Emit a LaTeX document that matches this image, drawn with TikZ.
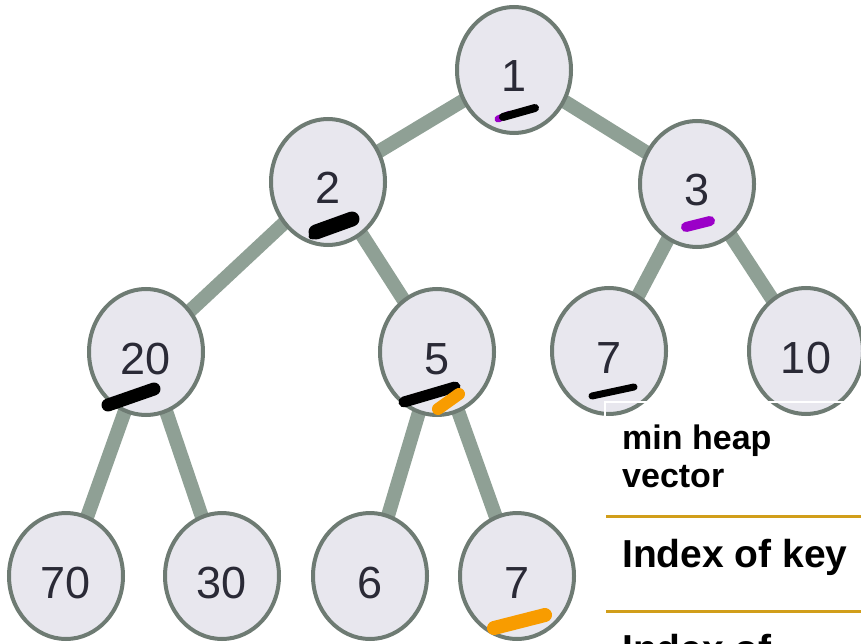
\documentclass[tikz,border=0pt]{standalone}
\usepackage{fontspec}
\setmainfont{Liberation Sans}
\usetikzlibrary{shapes.geometric,backgrounds}
\definecolor{fillc}{HTML}{E8E7EE}
\definecolor{strokec}{HTML}{6E7B73}
\definecolor{edgec}{HTML}{8FA095}
\definecolor{textc}{HTML}{2A2A36}
\definecolor{goldc}{HTML}{D19E1A}
\definecolor{purplec}{HTML}{9B00C8}
\definecolor{orangec}{HTML}{F89C00}
\tikzset{
  heapnode/.style={ellipse, draw=strokec, line width=4pt, fill=fillc,
    minimum width=114pt, minimum height=126pt, inner sep=0pt,
    text=textc, font=\fontsize{45}{45}\selectfont, text height=44pt, text depth=0pt},
  heapedge/.style={draw=edgec, line width=14pt},
  scrib/.style={line width=#1, line cap=round},
  rule/.style={draw=goldc, line width=3pt},
  tabtext/.style={anchor=base west, inner sep=0pt, text=black, align=left}
}
\begin{document}
\begin{tikzpicture}[x=1pt,y=-1pt]
\useasboundingbox (0,0) rectangle (861,644);
% nodes
\node[heapnode] (n1)  at (514,70)  {1};
\node[heapnode] (n2)  at (328,182) {2};
\node[heapnode] (n3)  at (697,184) {3};
\node[heapnode] (n20) at (146,352) {20};
\node[heapnode] (n5)  at (437,352) {5};
\node[heapnode] (n7a) at (609,351) {7};
\node[heapnode] (n10) at (806,351) {10};
\node[heapnode] (n70) at (66,576)  {70};
\node[heapnode] (n30) at (222,576) {30};
\node[heapnode] (n6)  at (370,576) {6};
\node[heapnode] (n7b) at (517,576) {7};
% edges
\begin{scope}[on background layer]
\draw[heapedge] (n1.center) -- (n2.center);
\draw[heapedge] (n1.center) -- (n3.center);
\draw[heapedge] (n2.center) -- (n20.center);
\draw[heapedge] (n2.center) -- (n5.center);
\draw[heapedge] (n3.center) -- (n7a.center);
\draw[heapedge] (n3.center) -- (n10.center);
\draw[heapedge] (n20.center) -- (n70.center);
\draw[heapedge] (n20.center) -- (n30.center);
\draw[heapedge] (n5.center) -- (n6.center);
\draw[heapedge] (n5.center) -- (n7b.center);
\end{scope}
% scribbles
\draw[scrib=7pt, purplec] (498,119) -- (510,114);
\draw[scrib=8pt, black] (503,117) -- (535,108);
\draw[scrib=15pt, black] (316,232) -- (352,219);
\draw[scrib=7pt, black] (312,236) -- (340,226);
\draw[scrib=10pt, purplec] (686,227) -- (710,221);
\draw[scrib=13pt, black] (108,405) -- (154,389);
\draw[scrib=11pt, black] (404,402) -- (455,387);
\draw[scrib=12pt, orangec] (438,409) -- (459,394);
\draw[scrib=7pt, black] (592,396) -- (634,387);
\draw[scrib=14pt, orangec] (494,628) -- (545,615);
% white table frame
\draw[white, line width=2pt] (605,421) -- (605,402) -- (861,402);
% gold rules
\draw[rule] (606,516) -- (861,516);
\draw[rule] (606,611) -- (861,611);
% table texts
\node[tabtext, font=\bfseries\fontsize{34}{38}\selectfont] (t1) at (622,487) {min heap\\vector};
\node[tabtext, font=\bfseries\fontsize{39}{39}\selectfont] (t2) at (622,567) {Index of key};
\node[tabtext, font=\bfseries\fontsize{39}{39}\selectfont] (t3) at (622,662) {Index of};
\end{tikzpicture}
\end{document}
